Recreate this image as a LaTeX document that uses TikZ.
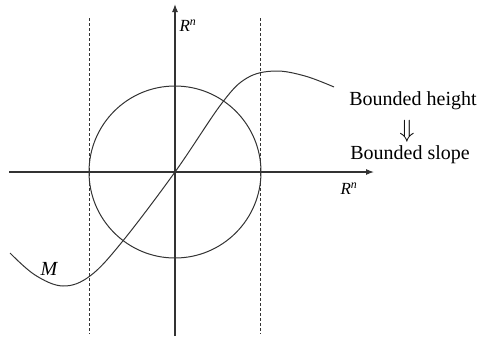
\documentclass[tikz,border=0pt]{standalone}
\usepackage{fontspec}
\setmainfont{Liberation Serif}
\usetikzlibrary{arrows.meta}
\definecolor{figgray}{HTML}{333333}

\begin{document}
\begin{tikzpicture}[
          x=1pt, y=-1pt,
          axis/.style={-{Latex[length=8pt,width=6pt]}, line width=1.1pt, figgray},
          bound/.style={densely dashed, line width=0.6pt, figgray},
          curve/.style={line width=1pt, figgray},
          lbl/.style={font=\fontsize{17}{19}\selectfont\itshape, inner sep=0pt},
          note/.style={font=\fontsize{20}{23}\selectfont, inner sep=0pt}
        ]
        \useasboundingbox (0,0) rectangle (481,340);
        \coordinate (o) at (175,172);
        \coordinate (xl) at (9,172);
        \coordinate (xr) at (374,172);
        \coordinate (yb) at (175,336);
        \coordinate (yt) at (175,4);
        % slab bounds
        \draw[bound] (89,18) -- (89,334);
        \draw[bound] (260,18) -- (260,334);
        % axes
        \draw[axis] (xl) -- (xr);
        \draw[axis] (yb) -- (yt);
        \node[lbl] (rny) at (188,26) {R\textsuperscript{n}};
        \node[lbl] (rnx) at (349,189) {R\textsuperscript{n}};
        % ball
        \draw[curve] (o) circle[radius=86];
        % the graph M
        \draw[curve] plot[smooth, tension=0.6] coordinates {(10,253) (35,275) (63,286) (90,276) (122,242) (175,172) (222,103) (247,78) (275,71) (305,76) (334,87)};
        \node[lbl, font=\fontsize{20}{22}\selectfont\itshape] (m) at (49,269) {M};
        % statement
        \node[note] (ht) at (413,101) {Bounded height};
        \node[note, font=\fontsize{26}{28}\selectfont] (arr) at (407,131) {$\Downarrow$};
        \node[note] (sl) at (410,155) {Bounded slope};
      \end{tikzpicture}
\end{document}
